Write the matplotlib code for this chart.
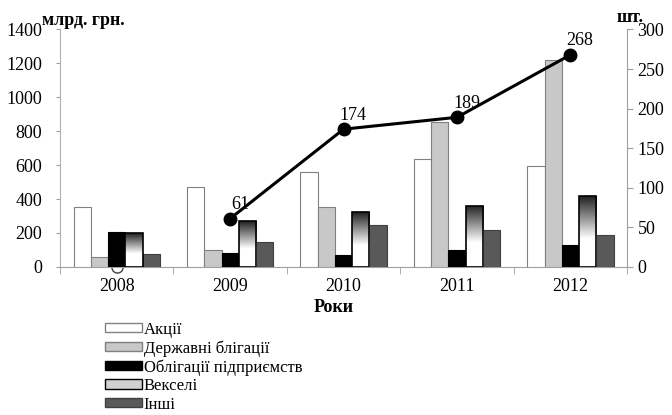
import numpy as np
import matplotlib.pyplot as plt
from matplotlib.colors import LinearSegmentedColormap
from matplotlib.patches import Patch

plt.rcParams['font.family'] = ['Liberation Serif', 'DejaVu Serif']

years = ['2008', '2009', '2010', '2011', '2012']
aktsii = [354, 468, 557, 637, 594]
derzh = [61, 102, 354, 857, 1219]
oblig = [203, 81, 67, 102, 126]
vekseli = [197, 271, 321, 360, 415]
inshi = [73, 146, 246, 218, 185]
count = [0, 61, 174, 189, 268]

names = ['Акції', 'Державні блігації', 'Облігації підприємств', 'Векселі', 'Інші']
series = [aktsii, derzh, oblig, vekseli, inshi]
faces = ['white', '#c8c8c8', 'black', 'white', '#595959']
edges = ['#808080', '#808080', 'black', 'black', '#404040']

grad = LinearSegmentedColormap.from_list('g', [(0, 'white'), (0.4, 'white'), (1, '#222222')])

fig = plt.figure(figsize=(6.72, 4.15), dpi=100)
ax = fig.add_axes([0.0893, 0.357, 0.844, 0.572])
x = np.arange(len(years))
w = 0.152

# open marker for 2008 sits behind the bars
ax.plot(x[0], count[0] * 1400 / 300, marker='o', ms=8, mfc='white', mec='#404040',
        mew=1, zorder=1, clip_on=False)

for i, (vals, fc, ec) in enumerate(zip(series, faces, edges)):
    pos = x + (i - 2) * w
    bars = ax.bar(pos, vals, w, color=fc, edgecolor=ec, linewidth=1.2 if i == 3 else 0.8, zorder=3)
    if i == 3:
        for b in bars:
            x0, y0 = b.get_x(), b.get_y()
            im = ax.imshow(np.linspace(0, 1, 100).reshape(-1, 1), cmap=grad, aspect='auto',
                           extent=[x0, x0 + w, y0, y0 + b.get_height()], origin='lower', zorder=3.5)
            im.set_clip_path(b)
            b.set_facecolor('none')
            b.set_zorder(4)

ax.set_xlim(-0.5, 4.5)
ax.set_ylim(0, 1400)
ax.set_yticks(range(0, 1401, 200))
ax.set_xticks(x)
ax.set_xticklabels(years)
ax.set_xticks(np.arange(-0.5, 5, 1), minor=True)
ax.tick_params(axis='x', which='major', length=0, labelsize=13, pad=8)
ax.tick_params(axis='x', which='minor', length=5, color='#a0a0a0', direction='out')
ax.tick_params(axis='y', labelsize=13, length=3, color='#a0a0a0', pad=10)
for s in ['top', 'right']:
    ax.spines[s].set_visible(False)
ax.spines['left'].set_color('#b0b0b0')
ax.spines['bottom'].set_color('#a0a0a0')

ax2 = ax.twinx()
ax2.set_ylim(0, 300)
ax2.set_yticks(range(0, 301, 50))
ax2.tick_params(axis='y', labelsize=13, length=4, color='#a0a0a0')
for s in ['top', 'left', 'bottom']:
    ax2.spines[s].set_visible(False)
ax2.spines['right'].set_color('#a0a0a0')
ax2.plot(x[1:], count[1:], color='black', lw=2.2, marker='o', ms=9, zorder=5)
for xi, v in zip(x[1:], count[1:]):
    ax2.annotate(str(v), (xi, v), xytext=(7, 4), textcoords='offset points',
                 ha='center', va='bottom', fontsize=13)

fig.text(0.063, 0.94, 'млрд. грн.', fontsize=13, fontweight='bold')
fig.text(0.918, 0.947, 'шт.', fontsize=13, fontweight='bold')
fig.text(0.496, 0.248, 'Роки', fontsize=13, fontweight='bold', ha='center')

handles = [Patch(facecolor=fc, edgecolor=ec) for fc, ec in zip(faces, edges)]
handles[3] = Patch(facecolor='#d0d0d0', edgecolor='black')
fig.legend(handles, names, loc='upper left', bbox_to_anchor=(0.147, 0.241), frameon=False,
           fontsize=12, handlelength=2.2, handleheight=0.5, handletextpad=0.1,
           labelspacing=0.15, borderaxespad=0)

fig.savefig('out.png', dpi=100)
